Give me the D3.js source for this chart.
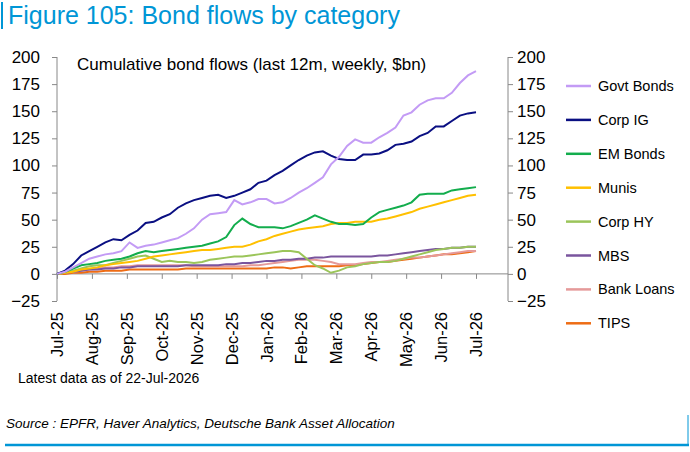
<!DOCTYPE html><html><head><meta charset="utf-8">
<script src="https://cdn.jsdelivr.net/npm/d3@7"></script>
<style>body{margin:0;background:#fff}text{font-family:"Liberation Sans",Arial,sans-serif}</style></head><body>
<svg id="c" width="690" height="452"></svg>
<script>
const months=["Jul-25","Aug-25","Sep-25","Oct-25","Nov-25","Dec-25","Jan-26","Feb-26","Mar-26","Apr-26","May-26","Jun-26","Jul-26"];
const yTicks=[-25,0,25,50,75,100,125,150,175,200];
const seriesNames=["Govt Bonds","Corp IG","EM Bonds","Munis","Corp HY","MBS","Bank Loans","TIPS"];
const colors=["#c39bf5","#0a0f82","#13ad4d","#ffc000","#9bc55a","#7a559e","#e59a9a","#ee6c14"];
const govt=[0,2,6,10,14,16,18,19,21,29,24,26,27,29,31,33,37,42,50,55,56,57,68,64,66,69,69,65,66,70,75,79,84,89,101,108,118,124,121,121,126,130,135,146,149,156,160,162,162,167,176,183,187];
const corpIG=[0,3,9,17,21,25,29,32,31,36,40,47,48,52,55,61,65,68,70,72,73,70,72,75,78,84,86,91,95,100,105,109,112,113,109,106,105,105,110,110,111,114,119,120,122,127,130,136,136,141,146,148,149];
const emBonds=[0,2,5,8,9,10,12,13,14,16,19,21,20,21,22,23,24,25,26,28,30,34,45,51,46,43,43,43,42,44,47,50,54,51,48,46,46,45,46,52,57,59,61,63,66,73,74,74,74,77,78,79,80];
const munis=[0,1,2,4,5,6,8,9,10,11,12,14,16,17,18,19,20,21,22,22,23,24,25,25,27,30,32,35,37,39,41,42,43,44,46,47,47,48,48,48,50,51,53,55,57,60,62,64,66,68,70,72,73];
const corpHY=[0,1,3,5,7,8,8,10,12,14,16,17,14,11,12,11,11,10,11,13,14,15,16,16,17,18,19,20,21,21,20,14,8,5,1,3,6,7,9,10,11,11,12,14,16,18,20,22,23,24,24,25,25];
const mbs=[0,1,2,3,4,4,5,5,6,6,7,7,7,7,7,7,8,8,8,8,8,9,9,10,10,11,12,12,13,13,14,14,15,15,16,16,16,16,16,16,17,17,18,19,20,21,22,23,23,24,24,25,25];
const bankLoans=[0,1,2,3,4,5,6,6,7,7,8,8,8,8,8,8,8,7,7,7,7,7,7,7,8,8,9,10,11,12,13,13,13,12,11,9,9,9,10,11,11,12,13,14,15,15,16,17,18,19,20,21,21];
const tips=[0,0,1,1,2,2,3,3,3,4,4,4,4,4,4,4,5,5,5,5,5,5,5,5,5,5,5,6,6,5,6,7,7,7,7,7,8,8,9,10,11,11,12,13,14,15,16,17,18,18,19,20,21];
const allSeries=[govt,corpIG,emBonds,munis,corpHY,mbs,bankLoans,tips];

const svg=d3.select("#c");
const x=d3.scaleLinear().domain([0,12]).range([57,476]);
const y=d3.scaleLinear().domain([-25,200]).range([301,57]);
const grey="#888";
svg.append("rect").attr("x",1).attr("y",2).attr("width",2).attr("height",27).attr("fill","#0096d6");
svg.append("text").attr("x",8).attr("y",24).attr("font-size",25).attr("fill","#0096d6").text("Figure 105: Bond flows by category");
const la=svg.append("g").attr("transform","translate(57,0)").call(d3.axisLeft(y).tickValues(yTicks).tickSize(5).tickPadding(12));
const ra=svg.append("g").attr("transform","translate(508,0)").call(d3.axisRight(y).tickValues(yTicks).tickSize(5).tickPadding(4));
[la,ra].forEach(a=>{a.selectAll("path,line").attr("stroke",grey);a.select(".domain").attr("d","M0,57V301");a.selectAll("text").attr("fill","#000").attr("font-size",17).style("font-family","'Liberation Sans',Arial,sans-serif");});
const xa=svg.append("g").attr("transform",`translate(0,${y(0)})`).call(d3.axisBottom(x).tickValues(d3.range(13)).tickSize(5).tickFormat(""));
xa.select(".domain").attr("d",`M57,0H508`).attr("stroke",grey);xa.selectAll("line").attr("stroke",grey);
svg.append("g").selectAll("text").data(months).join("text")
 .attr("transform",(d,i)=>`translate(${x(i)+6},312) rotate(-90)`).attr("text-anchor","end").attr("font-size",16.5).text(d=>d);
svg.append("text").attr("x",77).attr("y",70).attr("font-size",17).text("Cumulative bond flows (last 12m, weekly, $bn)");
for(let k=allSeries.length-1;k>=0;k--){
 const s=allSeries[k];
 svg.append("path").attr("d",d3.line().x((d,i)=>x(i*12/(s.length-1))).y(d=>y(d))(s)).attr("fill","none").attr("stroke",colors[k]).attr("stroke-width",2);
}
seriesNames.forEach((n,i)=>{
 const yy=86+i*33.9;
 svg.append("line").attr("x1",566).attr("x2",591).attr("y1",yy).attr("y2",yy).attr("stroke",colors[i]).attr("stroke-width",2.5);
 svg.append("text").attr("x",598).attr("y",yy+5).attr("font-size",14.5).text(n);
});
svg.append("text").attr("x",18).attr("y",383).attr("font-size",14).text("Latest data as of 22-Jul-2026");
svg.append("text").attr("x",6).attr("y",428).attr("font-size",13.5).attr("font-style","italic").text("Source : EPFR, Haver Analytics, Deutsche Bank Asset Allocation");
svg.append("line").attr("x1",5).attr("x2",689).attr("y1",445).attr("y2",445).attr("stroke","#0096d6").attr("stroke-width",2.5);
svg.append("line").attr("x1",688).attr("x2",688).attr("y1",415).attr("y2",446).attr("stroke","#0096d6").attr("stroke-width",1);
</script></body></html>
